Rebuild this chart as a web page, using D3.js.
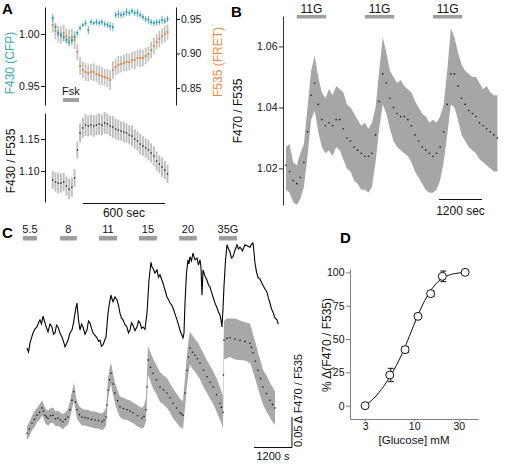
<!DOCTYPE html>
<html><head><meta charset="utf-8">
<script src="https://cdn.jsdelivr.net/npm/d3@7"></script>
<style>body{margin:0;background:#fff}svg{display:block}</style>
</head><body><svg id="c" width="507" height="464"></svg>
<script>
// ---------- Panel A ----------
const aTime = [20,40,60,80,100,120,140,160,180,200,220,240,260,280,300,320,340,360,380,400,420,440,460,480,500,520,540,560,580,600,620,640,660,680,700,720,740,760,780,800,820,840,860];
const aCfp = [1.0154,1.0067,1.0010,0.9990,0.9971,0.9942,0.9923,0.9942,0.9971,1.0010,
  1.0058,1.0087,1.0106,1.0038,1.0115,1.0106,1.0115,1.0106,1.0115,1.0096,
  1.0087,1.0077,1.0067,1.0183,1.0192,1.0183,1.0192,1.0212,1.0202,1.0221,
  1.0202,1.0202,1.0183,1.0163,1.0144,1.0135,1.0115,1.0106,1.0115,1.0115,
  1.0135,1.0125,1.0144];
const aCfpErr = [0.004,0.003,0.003,0.003,0.004,0.003,0.003,0.003,0.003,0.003,
  0.003,0.002,0.003,0.004,0.003,0.002,0.003,0.003,0.003,0.003,
  0.003,0.004,0.004,0.003,0.004,0.003,0.003,0.004,0.003,0.003,
  0.003,0.004,0.003,0.003,0.003,0.004,0.003,0.003,0.003,0.003,
  0.004,0.003,0.003];
const aFret = [0.9413,0.9326,0.9283,0.9268,0.9297,0.9254,0.9225,0.9239,0.9196,0.9022,
  0.8819,0.8761,0.8732,0.8717,0.8732,0.8732,0.8703,0.8688,0.8674,0.8659,
  0.8645,0.8616,0.8761,0.8804,0.8833,0.8848,0.8862,0.8877,0.8877,0.8906,
  0.8906,0.8935,0.8935,0.8935,0.8964,0.8993,0.9051,0.9109,0.9167,0.9210,
  0.9254,0.9283,0.9312];
const aFretErr = [0.011,0.012,0.012,0.013,0.012,0.011,0.012,0.012,0.013,0.012,
  0.013,0.012,0.013,0.012,0.012,0.013,0.012,0.014,0.013,0.012,
  0.013,0.014,0.013,0.012,0.013,0.012,0.012,0.013,0.012,0.012,
  0.013,0.012,0.013,0.012,0.012,0.011,0.012,0.012,0.011,0.012,
  0.011,0.012,0.011];
const aRatio = [1.0859,1.0828,1.0813,1.0813,1.0828,1.0766,1.0719,1.0750,1.0891,1.1328,
  1.1594,1.1672,1.1719,1.1703,1.1719,1.1703,1.1719,1.1734,1.1719,1.1750,
  1.1734,1.1703,1.1688,1.1656,1.1641,1.1625,1.1609,1.1594,1.1563,1.1547,
  1.1500,1.1469,1.1422,1.1391,1.1359,1.1328,1.1281,1.1234,1.1156,1.1109,
  1.1063,1.1016,1.0953];
const aRatioErr = [0.014,0.015,0.016,0.015,0.014,0.015,0.016,0.015,0.014,0.013,
  0.015,0.016,0.017,0.016,0.016,0.017,0.016,0.017,0.016,0.017,
  0.016,0.016,0.017,0.016,0.016,0.015,0.016,0.015,0.015,0.016,
  0.015,0.015,0.016,0.015,0.015,0.016,0.015,0.015,0.015,0.014,
  0.015,0.014,0.014];
const aLeftTicks = [0.95, 1.00];
const aRightTicks = [0.85, 0.90, 0.95];
const aBottomTicks = [1.10, 1.15];
const aFsk = [95, 212];
const aScaleBar = [241, 841];

// ---------- Panel B ----------
const bTime = [0,100,200,300,400,500,600,700,800,900,1000,1100,1200,1300,1400,1500,1600,1700,1800,1900,
  2000,2100,2200,2300,2400,2500,2600,2700,2800,2900,3000,3100,3200,3300,3400,3500,3600,3700,3800,3900,
  4000,4100,4200,4300,4400,4500,4600,4700,4800,4900,5000,5100,5200,5300,5400,5500,5600,5700,5800,5900];
const bMean = [1.021,1.019,1.016,1.015,1.017,1.022,1.032,1.044,1.048,1.041,
  1.036,1.034,1.035,1.034,1.036,1.036,1.033,1.030,1.029,1.027,
  1.026,1.025,1.024,1.024,1.025,1.031,1.042,1.051,1.048,1.043,
  1.040,1.038,1.037,1.037,1.036,1.034,1.031,1.029,1.027,1.026,
  1.025,1.024,1.025,1.027,1.032,1.041,1.051,1.051,1.047,1.043,
  1.041,1.039,1.038,1.037,1.035,1.034,1.033,1.032,1.031,1.030];
const bHi = [1.027,1.028,1.022,1.021,1.025,1.028,1.040,1.052,1.057,1.050,
  1.045,1.043,1.046,1.044,1.047,1.046,1.045,1.041,1.040,1.038,
  1.036,1.034,1.035,1.033,1.035,1.040,1.052,1.063,1.058,1.052,
  1.050,1.048,1.049,1.047,1.046,1.045,1.042,1.040,1.038,1.037,
  1.035,1.036,1.035,1.037,1.041,1.052,1.066,1.063,1.058,1.054,
  1.052,1.051,1.050,1.050,1.048,1.046,1.047,1.045,1.044,1.044];
const bLo = [1.013,1.012,1.009,1.008,1.010,1.014,1.024,1.036,1.039,1.032,
  1.027,1.025,1.026,1.024,1.027,1.026,1.023,1.020,1.019,1.016,
  1.015,1.013,1.013,1.012,1.014,1.022,1.033,1.041,1.038,1.033,
  1.029,1.027,1.026,1.025,1.024,1.022,1.019,1.017,1.015,1.013,
  1.012,1.012,1.013,1.016,1.022,1.031,1.041,1.040,1.036,1.031,
  1.029,1.027,1.026,1.025,1.023,1.022,1.021,1.020,1.019,1.019];
const bTicks = [1.02, 1.04, 1.06];
const bStimStart = [300, 2200, 4100];
const bStimEnd = [1120, 3020, 4920];
const bStimLabels = ["11G","11G","11G"];
const bScaleBar = [4270, 5470];

// ---------- Panel C ----------
const cBlackTime = [126,174,221,268,316,379,442,490,537,585,632,663,695,742,790,853,916,964,1011,1058,
  1105,1168,1232,1279,1326,1374,1421,1484,1547,1595,1642,1673,1705,1752,1800,1848,1895,1958,2021,2068,
  2116,2163,2211,2274,2337,2384,2432,2479,2526,2574,2621,2684,2732,2779,2810,2842,2905,2969,3016,3063,
  3110,3158,3221,3284,3331,3379,3426,3474,3537,3600,3648,3695,3742,3790,3853,3916,3979,4042,4074,4105,
  4168,4232,4279,4326,4374,4421,4484,4547,4595,4642,4690,4737,4800,4863,4910,4958,5005,5053,5085,5116,
  5164,5211,5243,5274,5321,5368,5432,5495,5542,5590,5621,5653,5684,5747,5811,5858,5905,5953,6000,6063,
  6127,6174,6221,6253,6284,6316,6347,6395,6442,6490,6537,6584,6632,6695,6758,6805,6853,6932,7011,7090,
  7169,7216,7263,7295,7326,7374,7421,7484,7547,7626,7705,7752,7800,7848,7895,7958,8021,8060];
const cBlackVal = [0.165,0.158,0.173,0.182,0.190,0.197,0.200,0.207,0.212,0.205,0.218,0.212,0.207,0.199,0.192,0.205,0.200,0.188,0.190,0.203,
  0.200,0.190,0.183,0.176,0.167,0.172,0.178,0.190,0.195,0.207,0.223,0.232,0.240,0.212,0.195,0.205,0.200,0.188,0.195,0.210,
  0.207,0.198,0.190,0.186,0.182,0.176,0.178,0.168,0.170,0.177,0.183,0.223,0.240,0.253,0.247,0.242,0.250,0.245,0.236,0.223,
  0.215,0.212,0.204,0.200,0.190,0.195,0.207,0.203,0.194,0.200,0.210,0.207,0.198,0.200,0.196,0.223,0.278,0.308,0.300,0.298,
  0.290,0.295,0.283,0.287,0.280,0.273,0.262,0.250,0.246,0.240,0.237,0.232,0.222,0.212,0.204,0.195,0.188,0.182,0.190,0.240,
  0.290,0.312,0.305,0.317,0.310,0.323,0.312,0.315,0.303,0.312,0.300,0.253,0.295,0.285,0.278,0.270,0.267,0.258,0.250,0.240,
  0.232,0.225,0.220,0.212,0.200,0.230,0.267,0.310,0.337,0.330,0.325,0.315,0.317,0.328,0.337,0.330,0.333,0.327,0.337,0.335,
  0.333,0.338,0.340,0.325,0.307,0.292,0.283,0.280,0.273,0.265,0.258,0.248,0.240,0.230,0.225,0.215,0.212,0.205];
const cGreyTime = [126,205,284,363,442,521,600,648,695,742,790,868,947,1026,1105,1184,1263,1342,1421,1484,
  1547,1611,1658,1705,1784,1863,1958,2053,2163,2274,2384,2495,2558,2621,2652,2684,2732,2779,2842,2905,
  2984,3063,3174,3284,3379,3474,3616,3758,3821,3884,3916,3948,4026,4105,4216,4326,4437,4547,4642,4737,
  4847,4958,5005,5053,5116,5179,5226,5274,5353,5432,5511,5590,5700,5811,5905,6000,6111,6221,6268,6316,
  6331,6347,6442,6537,6695,6853,7011,7169,7216,7263,7342,7421,7500,7579,7690,7800,7879,7958];
const cGreyVal = [0.023,0.030,0.040,0.046,0.053,0.058,0.065,0.060,0.053,0.050,0.048,0.052,0.053,0.047,0.048,0.045,0.042,0.046,0.050,0.062,
  0.078,0.092,0.075,0.062,0.054,0.050,0.049,0.048,0.046,0.045,0.044,0.042,0.045,0.050,0.070,0.095,0.112,0.123,0.105,0.090,
  0.077,0.067,0.064,0.062,0.060,0.057,0.052,0.048,0.051,0.062,0.100,0.145,0.133,0.123,0.112,0.100,0.095,0.090,0.082,0.073,
  0.065,0.057,0.055,0.053,0.090,0.128,0.150,0.165,0.158,0.153,0.147,0.140,0.128,0.117,0.108,0.100,0.087,0.073,0.066,0.058,
  0.120,0.178,0.181,0.182,0.180,0.178,0.176,0.173,0.166,0.157,0.143,0.128,0.114,0.100,0.089,0.078,0.071,0.065];
const cGreyErr = [0.011,0.012,0.012,0.013,0.012,0.013,0.013,0.012,0.013,0.012,0.013,0.012,0.013,0.012,0.013,0.012,0.013,0.012,0.013,0.014,
  0.015,0.015,0.014,0.014,0.013,0.014,0.013,0.014,0.013,0.014,0.013,0.014,0.014,0.015,0.016,0.017,0.018,0.018,0.018,0.017,
  0.018,0.017,0.018,0.017,0.018,0.017,0.018,0.017,0.018,0.019,0.022,0.024,0.024,0.025,0.024,0.025,0.024,0.025,0.024,0.025,
  0.024,0.024,0.023,0.024,0.025,0.026,0.027,0.027,0.028,0.027,0.028,0.027,0.028,0.027,0.028,0.027,0.028,0.027,0.027,0.027,
  0.030,0.032,0.033,0.032,0.034,0.033,0.032,0.033,0.032,0.031,0.031,0.030,0.030,0.029,0.030,0.029,0.029,0.028];
const cStimStart = [0, 1170, 2400, 3660, 4930, 6190];
const cStimEnd = [440, 1700, 2970, 4230, 5490, 6760];
const cStimLabels = ["5.5","8","11","15","20","35G"];
const cScaleTime = [7295, 8495];
const cScaleVal = [0, 0.05];

// ---------- Panel D ----------
const dConc = [3, 5.5, 8, 11, 15, 20, 35];
const dResp = [0, 23, 42, 67, 84, 97, 100];
const dErr = [0, 5, 2, 1, 2, 4, 0];
const fitConc = [3,4,5,6,7,8,9,10,12,14,16,18,20,25,30,35];
const fitResp = [0,8,17,26,35,44,53,61,74,83,89,93,95.5,98.5,99.5,100];
const dYTicks = [0,25,50,75,100];
const dXTicks = [3,10,30];

// ================= drawing =================
const F = "'Liberation Sans', Arial, Helvetica, sans-serif";
const svg = d3.select('#c').attr('font-family', F);
function styleAxis(g, col){
  g.selectAll('path,line').attr('stroke', col || '#1a1a1a').attr('stroke-width',1);
  g.selectAll('text').attr('font-size',10.5).attr('fill','#111').attr('font-family',F);
}
function vlabel(x, y, txt, col, size){
  svg.append('text').attr('transform',`translate(${x},${y}) rotate(-90)`)
    .attr('text-anchor','middle').attr('dy','0.35em').attr('font-size',size||12)
    .attr('fill',col||'#111').text(txt);
}
function letter(x,y,t){ svg.append('text').attr('x',x).attr('y',y).attr('font-size',15).attr('font-weight','bold').attr('fill','#000').text(t); }

// Panel A
const xA = d3.scaleLinear([0,900],[50,173]);
const yAL = d3.scaleLinear([0.9317,1.026],[105,7]);
const yAR = d3.scaleLinear([0.8254,0.9674],[105,7]);
const yAB = d3.scaleLinear([1.0516,1.1906],[202,113]);
svg.append('g').attr('transform','translate(45,0)')
  .call(d3.axisLeft(yAL).tickValues(aLeftTicks).tickFormat(d3.format('.2f')).tickSize(4).tickSizeOuter(0).tickPadding(1.5)).call(styleAxis);
svg.append('g').attr('transform','translate(176,0)')
  .call(d3.axisRight(yAR).tickValues(aRightTicks).tickFormat(d3.format('.2f')).tickSize(4).tickSizeOuter(0).tickPadding(1)).call(styleAxis);
svg.append('g').attr('transform','translate(45,0)')
  .call(d3.axisLeft(yAB).tickValues(aBottomTicks).tickFormat(d3.format('.2f')).tickSize(4).tickSizeOuter(0).tickPadding(1.5)).call(styleAxis);

const gA = svg.append('g');
aTime.forEach((t,i)=>{
  gA.append('line').attr('x1',xA(t)).attr('x2',xA(t)).attr('y1',yAR(aFret[i]-aFretErr[i])).attr('y2',yAR(aFret[i]+aFretErr[i]))
    .attr('stroke','#c2c2c2').attr('stroke-width',1.7);
});
aTime.forEach((t,i)=>{
  gA.append('circle').attr('cx',xA(t)).attr('cy',yAR(aFret[i])).attr('r',1.1).attr('fill','#f07d2c');
});
aTime.forEach((t,i)=>{
  gA.append('line').attr('x1',xA(t)).attr('x2',xA(t)).attr('y1',yAL(aCfp[i]-aCfpErr[i])).attr('y2',yAL(aCfp[i]+aCfpErr[i]))
    .attr('stroke','#5cb6c2').attr('stroke-width',1);
  gA.append('circle').attr('cx',xA(t)).attr('cy',yAL(aCfp[i])).attr('r',1.1).attr('fill','#2c98a8');
});
aTime.forEach((t,i)=>{
  gA.append('line').attr('x1',xA(t)).attr('x2',xA(t)).attr('y1',yAB(aRatio[i]-aRatioErr[i])).attr('y2',yAB(aRatio[i]+aRatioErr[i]))
    .attr('stroke','#bdbdbd').attr('stroke-width',1.9);
});
aTime.forEach((t,i)=>{
  gA.append('circle').attr('cx',xA(t)).attr('cy',yAB(aRatio[i])).attr('r',0.8).attr('fill','#111');
});
svg.append('rect').attr('x',xA(aFsk[0])).attr('y',98).attr('width',xA(aFsk[1])-xA(aFsk[0])).attr('height',4).attr('fill','#a0a0a0');
svg.append('text').attr('x',(xA(aFsk[0])+xA(aFsk[1]))/2).attr('y',95).attr('text-anchor','middle').attr('font-size',11).attr('fill','#111').text('Fsk');
svg.append('line').attr('x1',xA(aScaleBar[0])).attr('x2',xA(aScaleBar[1])).attr('y1',203.5).attr('y2',203.5).attr('stroke','#111');
svg.append('text').attr('x',(xA(aScaleBar[0])+xA(aScaleBar[1]))/2).attr('y',217).attr('text-anchor','middle').attr('font-size',12).attr('fill','#111').text('600 sec');
vlabel(9.5, 63, 'F430 (CFP)', '#3aa6b3');
vlabel(218, 62, 'F535 (FRET)', '#ef8a3f');
vlabel(11, 161, 'F430 / F535', '#111');
letter(2, 14, 'A');

// Panel B
const xB = d3.scaleLinear([0,6000],[286,501]);
const yB = d3.scaleLinear([1.008,1.07],[205,16]);
svg.append('g').attr('transform','translate(283,0)')
  .call(d3.axisLeft(yB).tickValues(bTicks).tickFormat(d3.format('.2f')).tickSize(4).tickSizeOuter(0).tickPadding(1.5)).call(g=>styleAxis(g,'#333'));
svg.append('path').datum(bTime.map((t,i)=>i))
  .attr('d', d3.area().x(i=>xB(bTime[i])).y0(i=>yB(bLo[i])).y1(i=>yB(bHi[i])))
  .attr('fill','#a6a6a8');
bTime.forEach((t,i)=>{ svg.append('circle').attr('cx',xB(t)).attr('cy',yB(bMean[i])).attr('r',0.8).attr('fill','#111'); });
bStimStart.forEach((s,i)=>{
  svg.append('rect').attr('x',xB(s)).attr('y',15).attr('width',xB(bStimEnd[i])-xB(s)).attr('height',3.5).attr('fill','#9e9e9e');
  svg.append('text').attr('x',(xB(s)+xB(bStimEnd[i]))/2).attr('y',12.5).attr('text-anchor','middle').attr('font-size',12).attr('fill','#111').text(bStimLabels[i]);
});
svg.append('line').attr('x1',xB(bScaleBar[0])).attr('x2',xB(bScaleBar[1])).attr('y1',199.5).attr('y2',199.5).attr('stroke','#111');
svg.append('text').attr('x',(xB(bScaleBar[0])+xB(bScaleBar[1]))/2).attr('y',215).attr('text-anchor','middle').attr('font-size',12).attr('fill','#111').text('1200 sec');
vlabel(238, 111, 'F470 / F535', '#111');
letter(231, 17, 'B');

// Panel C
const xC = d3.scaleLinear([0,8000],[23,276.3]);
const yC = d3.scaleLinear([0,0.35],[447,237]);
cStimStart.forEach((s,i)=>{
  svg.append('rect').attr('x',xC(s)).attr('y',236).attr('width',xC(cStimEnd[i])-xC(s)).attr('height',4.5).attr('fill','#9e9e9e');
  svg.append('text').attr('x',(xC(s)+xC(cStimEnd[i]))/2).attr('y',233).attr('text-anchor','middle').attr('font-size',11).attr('fill','#111').text(cStimLabels[i]);
});
svg.append('path').datum(cGreyTime.map((t,i)=>i))
  .attr('d', d3.area().x(i=>xC(cGreyTime[i])).y0(i=>yC(cGreyVal[i]-cGreyErr[i])).y1(i=>yC(cGreyVal[i]+cGreyErr[i])))
  .attr('fill','#a8a8aa');
cGreyTime.forEach((t,i)=>{ svg.append('circle').attr('cx',xC(t)).attr('cy',yC(cGreyVal[i])).attr('r',0.8).attr('fill','#111'); });
svg.append('path').datum(cBlackTime.map((t,i)=>i))
  .attr('d', d3.line().x(i=>xC(cBlackTime[i])).y(i=>yC(cBlackVal[i])))
  .attr('fill','none').attr('stroke','#000').attr('stroke-width',1.1);
svg.append('path').attr('d',`M${xC(cScaleTime[0])},${yC(cScaleVal[0])+0.5}H${xC(cScaleTime[1])}V${yC(cScaleVal[1])}`)
  .attr('fill','none').attr('stroke','#111');
svg.append('text').attr('x',(xC(cScaleTime[0])+xC(cScaleTime[1]))/2).attr('y',460).attr('text-anchor','middle').attr('font-size',11).attr('fill','#111').text('1200 s');
svg.append('text').attr('transform','translate(301.5,447) rotate(-90)').attr('font-size',11).attr('fill','#111').text('0.05 \u0394 F470 / F535');
letter(2, 238, 'C');

// Panel D
const xD = d3.scaleLog([2.07,48],[350,478]);
const yD = d3.scaleLinear([-10,102.5],[419,269]);
svg.append('g').attr('transform','translate(350,0)')
  .call(d3.axisLeft(yD).tickValues(dYTicks).tickFormat(d3.format('d')).tickSize(4).tickSizeOuter(0).tickPadding(1.5)).call(g=>styleAxis(g,'#808080'));
svg.append('g').attr('transform','translate(0,419)')
  .call(d3.axisBottom(xD).tickValues(dXTicks).tickFormat(d3.format('d')).tickSize(2.5).tickSizeOuter(0).tickPadding(1.5)).call(g=>styleAxis(g,'#808080'));
svg.append('path').datum(fitConc.map((c,i)=>i))
  .attr('d', d3.line().x(i=>xD(fitConc[i])).y(i=>yD(fitResp[i])).curve(d3.curveMonotoneX))
  .attr('fill','none').attr('stroke','#111').attr('stroke-width',1);
dConc.forEach((c,i)=>{
  if(dErr[i]>0){
    const x = xD(c)+1;
    svg.append('path').attr('d',`M${x},${yD(dResp[i]-dErr[i])}V${yD(dResp[i]+dErr[i])}M${x-3},${yD(dResp[i]-dErr[i])}h6M${x-3},${yD(dResp[i]+dErr[i])}h6`)
      .attr('stroke','#111').attr('fill','none');
  }
});
dConc.forEach((c,i)=>{
  svg.append('circle').attr('cx',xD(c)).attr('cy',yD(dResp[i])).attr('r',4).attr('fill','#fff').attr('stroke','#111').attr('stroke-width',1);
});
svg.append('text').attr('x',414).attr('y',444).attr('text-anchor','middle').attr('font-size',11.5).attr('fill','#111').text('[Glucose] mM');
vlabel(327, 345, '% \u0394(F470 / F535)', '#111');
letter(340, 243, 'D');
</script></body></html>
